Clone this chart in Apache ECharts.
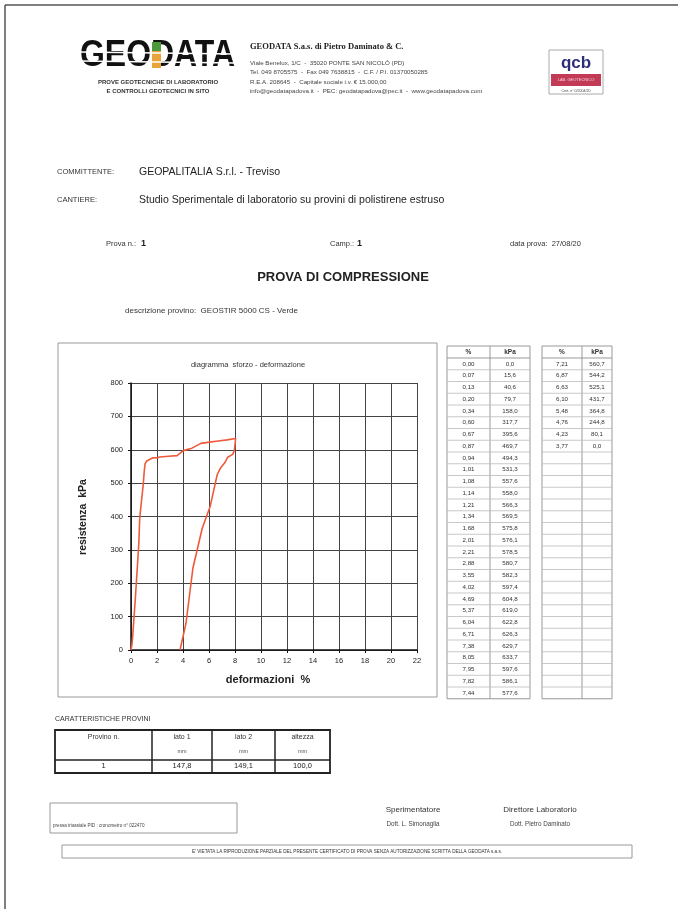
<!DOCTYPE html>
<html><head><meta charset="utf-8">
<script src="https://cdn.jsdelivr.net/npm/echarts@6/dist/echarts.min.js"></script>
<style>html,body{margin:0;padding:0;background:#fff}#c{width:678px;height:909px}</style>
</head><body><div id="c"></div>
<script>
// ---- data ----
const loadStrain = [0.00,0.07,0.13,0.20,0.34,0.60,0.67,0.87,0.94,1.01,1.08,1.14,1.21,1.34,1.68,2.01,2.21,2.88,3.55,4.02,4.69,5.37,6.04,6.71,7.38,8.05,7.95,7.82,7.44];
const loadStress = [0.0,15.6,40.6,79.7,158.0,317.7,395.6,469.7,494.3,531.3,557.6,558.0,566.3,569.5,575.8,576.1,578.5,580.7,582.3,597.4,604.8,619.0,622.8,626.3,629.7,633.7,597.6,586.1,577.6];
const unloadStrain = [7.21,6.87,6.63,6.10,5.48,4.76,4.23,3.77];
const unloadStress = [560.7,544.2,525.1,431.7,364.8,244.8,80.1,0.0];
const xTickLabels = ['0','2','4','6','8','10','12','14','16','18','20','22'];
const yTickLabels = ['0','100','200','300','400','500','600','700','800'];
const specHeaders = ['Provino n.','lato 1','lato 2','altezza'];
const specUnits = ['','mm','mm','mm'];
const specValues = ['1','147,8','149,1','100,0'];

const fmt = (v, d) => v.toFixed(d).replace('.', ',');
const SANS = 'Liberation Sans, Arial, sans-serif';
const G = [];
function txt(x, y, s, size, opt) {
  opt = opt || {};
  const st = {text: s, font: (opt.bold ? 'bold ' : '') + size + 'px ' + (opt.family || SANS),
    fill: opt.color || '#222', textAlign: opt.align || 'left', align: opt.align || 'left',
    textVerticalAlign: 'middle', verticalAlign: 'middle'};
  const el = {type: 'text', x: x, y: y, z: opt.z || 10, silent: true, style: st};
  if (opt.rotation) el.rotation = opt.rotation;
  if (opt.scaleX) { el.scaleX = opt.scaleX; }
  G.push(el); return el;
}
function ln(x1, y1, x2, y2, c, w, z) {
  G.push({type: 'line', z: z || 9, silent: true, shape: {x1, y1, x2, y2}, style: {stroke: c, lineWidth: w}});
}
function rc(x, y, w, h, stroke, lw, fill, z) {
  G.push({type: 'rect', z: z || 8, silent: true, shape: {x, y, width: w, height: h},
    style: {fill: fill || 'none', stroke: stroke || 'none', lineWidth: lw || 1}});
}

// page border
ln(5, 5, 678, 5, '#555', 1.5);
ln(5, 5, 5, 909, '#555', 1.5);

// logo
(function () {
  const c = document.createElement('canvas').getContext('2d');
  c.font = 'bold 36px ' + SANS;
  const w = c.measureText('GEODATA').width;
  txt(80, 56, 'GEODATA', 36, {bold: true, color: '#111', scaleX: 155 / w});
})();
rc(152, 42, 9, 26, null, 1, '#e8a33a', 11);
rc(152, 42, 9, 9, null, 1, '#4c9a3c', 11);
ln(80, 52, 235, 54, '#fff', 1.3, 12);
ln(80, 61, 235, 63, '#fff', 1.3, 12);
txt(158, 82, 'PROVE GEOTECNICHE DI LABORATORIO', 6, {bold: true, align: 'center', color: '#333'});
txt(158, 91, 'E CONTROLLI GEOTECNICI IN SITO', 6, {bold: true, align: 'center', color: '#333'});

txt(250, 47, 'GEODATA S.a.s. di Pietro Daminato & C.', 8.5, {bold: true, family: 'Liberation Serif, serif', color: '#222'});
txt(250, 63, 'Viale Benelux, 1/C  -  35020 PONTE SAN NICOLÒ (PD)', 6.2, {color: '#444'});
txt(250, 72, 'Tel. 049 8705575  -  Fax 049 7638815  -  C.F. / P.I. 01370050285', 6.2, {color: '#444'});
txt(250, 82, 'R.E.A. 208645  -  Capitale sociale i.v. € 15.000,00', 6.2, {color: '#444'});
txt(250, 91, 'info@geodatapadova.it  -  PEC: geodatapadova@pec.it  -  www.geodatapadova.com', 6.2, {color: '#444'});

// qcb logo
rc(549, 50, 54, 44, '#aaa', 1, '#fff');
txt(576, 63, 'qcb', 17, {bold: true, align: 'center', color: '#2c2f78'});
rc(551, 74, 50, 12, null, 1, '#c23a55');
txt(576, 80, 'LAB. GEOTECNICO', 4, {align: 'center', color: '#f3d0d8'});
txt(576, 91, 'Cert. n° 0/2004/20', 3.6, {align: 'center', color: '#444'});

// header info
txt(57, 172, 'COMMITTENTE:', 7.5, {color: '#333'});
txt(139, 172, 'GEOPALITALIA S.r.l. - Treviso', 10.5, {color: '#222'});
txt(57, 200, 'CANTIERE:', 7.5, {color: '#333'});
txt(139, 200, 'Studio Sperimentale di laboratorio su provini di polistirene estruso', 10.5, {color: '#222'});
txt(106, 244, 'Prova n.:', 7.5, {color: '#333'});
txt(141, 244, '1', 9, {bold: true, color: '#222'});
txt(330, 244, 'Camp.:', 7.5, {color: '#333'});
txt(357, 244, '1', 9, {bold: true, color: '#222'});
txt(510, 244, 'data prova:  27/08/20', 7.5, {color: '#333'});
txt(343, 277, 'PROVA DI COMPRESSIONE', 13, {bold: true, align: 'center', color: '#222'});
txt(125, 311, 'descrizione provino:  GEOSTIR 5000 CS - Verde', 8, {color: '#333'});

// chart frame & titles
rc(58, 343, 379, 354, '#999', 1);
txt(248, 365, 'diagramma  sforzo - deformazione', 7.5, {align: 'center', color: '#333'});
txt(268, 680, 'deformazioni  %', 11, {bold: true, align: 'center', color: '#222'});
txt(83, 517, 'resistenza  kPa', 10.5, {bold: true, align: 'center', color: '#222', rotation: Math.PI / 2});

// data tables
const rowH = 11.75, hTop = 346, hBot = 358, nRows = 29;
function table(x0, xm, x1, strains, stresses) {
  const yEnd = hBot + nRows * rowH;
  rc(x0, hTop, x1 - x0, yEnd - hTop, '#999', 1);
  ln(xm, hTop, xm, yEnd, '#999', 1);
  ln(x0, hBot, x1, hBot, '#999', 1);
  for (let i = 1; i < nRows; i++) ln(x0, hBot + i * rowH, x1, hBot + i * rowH, '#bbb', 0.8);
  txt((x0 + xm) / 2, (hTop + hBot) / 2, '%', 6.5, {align: 'center', bold: true, color: '#333'});
  txt((xm + x1) / 2, (hTop + hBot) / 2, 'kPa', 6.5, {align: 'center', bold: true, color: '#333'});
  for (let i = 0; i < strains.length; i++) {
    const y = hBot + (i + 0.5) * rowH;
    txt((x0 + xm) / 2, y, fmt(strains[i], 2), 6.2, {align: 'center', color: '#333'});
    txt((xm + x1) / 2, y, fmt(stresses[i], 1), 6.2, {align: 'center', color: '#333'});
  }
}
table(447, 490, 530, loadStrain, loadStress);
table(542, 582, 612, unloadStrain, unloadStress);

// specimen table
txt(55, 719, 'CARATTERISTICHE PROVINI', 7, {color: '#333'});
const cols = [55, 152, 212, 275, 330];
rc(55, 730, 275, 43, '#222', 1.8);
ln(55, 760, 330, 760, '#222', 1.5);
for (let i = 1; i < 4; i++) ln(cols[i], 730, cols[i], 773, '#222', 1.5);
for (let i = 0; i < 4; i++) {
  const cx = (cols[i] + cols[i + 1]) / 2;
  txt(cx, 737, specHeaders[i], 7, {align: 'center', color: '#333'});
  if (specUnits[i]) txt(cx, 751, specUnits[i], 5.5, {align: 'center', color: '#555'});
  txt(cx, 766, specValues[i], 7.5, {align: 'center', color: '#222'});
}

// footer
rc(50, 803, 187, 30, '#999', 1);
txt(53, 826, 'pressa triassiale PID : cronometro n° 022470', 4.6, {color: '#444'});
txt(413, 810, 'Sperimentatore', 8, {align: 'center', color: '#333'});
txt(413, 824, 'Dott. L. Simonaglia', 6.3, {align: 'center', color: '#444'});
txt(540, 810, 'Direttore Laboratorio', 8, {align: 'center', color: '#333'});
txt(540, 824, 'Dott. Pietro Daminato', 6.3, {align: 'center', color: '#444'});
rc(62, 845, 570, 13, '#999', 1);
txt(347, 851.5, "E' VIETATA LA RIPRODUZIONE PARZIALE DEL PRESENTE CERTIFICATO DI PROVA SENZA AUTORIZZAZIONE SCRITTA DELLA GEODATA s.a.s.", 4.6, {align: 'center', color: '#333'});

// ---- chart ----
const curve = [];
loadStrain.forEach((x, i) => curve.push([x, loadStress[i]]));
unloadStrain.forEach((x, i) => curve.push([x, unloadStress[i]]));

const chart = echarts.init(document.getElementById('c'), null, {renderer: 'canvas'});
const axisCommon = {
  type: 'value',
  axisLine: {show: true, onZero: false, lineStyle: {color: '#111', width: 1.5}},
  axisTick: {show: true, inside: false, length: 3, lineStyle: {color: '#111', width: 1}},
  splitLine: {show: true, lineStyle: {color: '#444', width: 1}},
  axisLabel: {fontSize: 7.5, color: '#222', fontFamily: SANS}
};
chart.setOption({
  animation: false,
  backgroundColor: '#fff',
  grid: {left: 131, top: 383, width: 286, height: 267, containLabel: false, show: false},
  xAxis: Object.assign({}, axisCommon, {min: 0, max: 22, interval: 2,
    axisLabel: Object.assign({}, axisCommon.axisLabel, {margin: 7, formatter: (v) => xTickLabels[Math.round(v / 2)]})}),
  yAxis: Object.assign({}, axisCommon, {min: 0, max: 800, interval: 100,
    axisLabel: Object.assign({}, axisCommon.axisLabel, {margin: 8, formatter: (v) => yTickLabels[Math.round(v / 100)]})}),
  series: [{
    type: 'line', data: curve, showSymbol: false, symbol: 'none', smooth: false,
    lineStyle: {color: '#ef5a3a', width: 1.6}, itemStyle: {color: '#ef5a3a'}, z: 5
  }],
  graphic: {elements: G}
});
</script></body></html>
